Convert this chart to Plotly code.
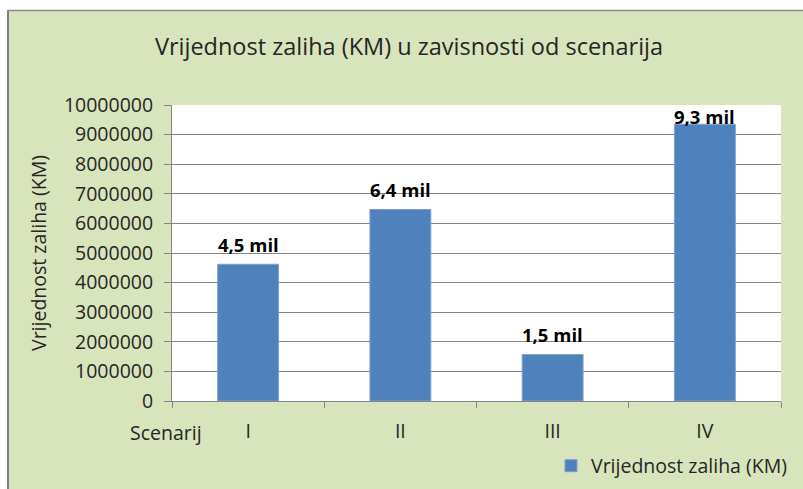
import plotly.graph_objects as go

categories = ["I", "II", "III", "IV"]
values = [4620000, 6470000, 1570000, 9350000]
labels = ["4,5 mil", "6,4 mil", "1,5 mil", "9,3 mil"]
series_name = "Vrijednost zaliha (KM)"
title_text = "Vrijednost zaliha (KM) u zavisnosti od scenarija"
y_title = "Vrijednost zaliha (KM)"
x_title = "Scenarij"

W, H = 803, 489
L, R, T, B = 172, 781, 105, 401  # plot area pixel box
pw, ph = R - L, B - T

def px(x):
    return (x - L) / pw

def py(y):
    return (B - y) / ph

FONT = "Open Sans"
TXT = "#262626"
GREEN = "#d8e4bc"
GRID = "#868686"
BAR = "#4f81bd"
FS = 19.5

fig = go.Figure()
fig.add_trace(go.Bar(
    x=categories, y=values, name=series_name,
    marker=dict(color=BAR, line=dict(color="#7f9fcf", width=1)),
    width=0.4, showlegend=True,
))

ymax = 10000000
off = 20 / ph * ymax
cap = 9600000
for c, v, t in zip(categories, values, labels):
    fig.add_annotation(x=c, y=min(v + off, cap), text=f"<b>{t}</b>", showarrow=False,
                       xanchor="center", yanchor="middle",
                       font=dict(family=FONT, size=18.5, color="#000000"))

fig.add_annotation(xref="paper", yref="paper", x=px(166), y=py(432), text=x_title,
                   showarrow=False, xanchor="center", yanchor="middle",
                   font=dict(family=FONT, size=FS, color=TXT))

shapes = [
    # white strips outside the green chart area
    dict(type="rect", xref="paper", yref="paper", x0=px(0), x1=px(W), y0=py(10), y1=py(0),
         fillcolor="white", line=dict(width=0), layer="below"),
    dict(type="rect", xref="paper", yref="paper", x0=px(0), x1=px(7), y0=py(H), y1=py(0),
         fillcolor="white", line=dict(width=0), layer="below"),
    # gray border
    dict(type="line", xref="paper", yref="paper", x0=px(8), x1=px(8), y0=py(H), y1=py(10),
         line=dict(color="#808080", width=2), layer="above"),
    dict(type="line", xref="paper", yref="paper", x0=px(7), x1=px(W), y0=py(10.5), y1=py(10.5),
         line=dict(color="#8a8a8a", width=1.5), layer="above"),
]

fig.update_layout(
    width=W, height=H,
    margin=dict(l=L, r=W - R, t=T, b=H - B, autoexpand=False),
    paper_bgcolor=GREEN, plot_bgcolor="white",
    shapes=shapes,
    title=dict(text=title_text, xref="container", x=409 / W, xanchor="center",
               yref="container", y=1 - 47 / H, yanchor="middle",
               font=dict(family=FONT, size=23.5, color=TXT)),
    font=dict(family=FONT, color=TXT),
    bargap=0.6,
    legend=dict(orientation="h", x=px(792), xanchor="right", y=py(466), yanchor="middle",
                bgcolor="rgba(0,0,0,0)", font=dict(family=FONT, size=FS, color=TXT),
                itemwidth=30),
    xaxis=dict(type="category", tickson="boundaries", ticks="outside", ticklen=6,
               tickcolor=GRID, showline=True, linecolor=GRID, linewidth=1,
               showgrid=False, tickfont=dict(family=FONT, size=FS, color=TXT),
               ticklabelstandoff=13, automargin=False),
    yaxis=dict(range=[0, ymax], dtick=1000000, tickformat="d", ticks="outside", ticklen=7,
               tickcolor=GRID, showline=True, linecolor=GRID, linewidth=1,
               showgrid=True, gridcolor=GRID, gridwidth=1, zeroline=False,
               tickfont=dict(family=FONT, size=FS, color=TXT), ticklabelstandoff=7,
               automargin=False,
               title=dict(text=y_title, font=dict(family=FONT, size=FS, color=TXT), standoff=12)),
)

fig.write_html("out.html", config={"displayModeBar": False},
               post_script="document.body.style.margin='0px';document.body.style.padding='0px';")
